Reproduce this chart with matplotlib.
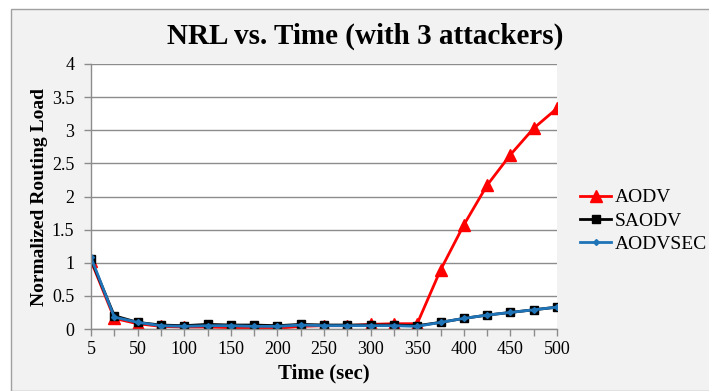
import numpy as np
import matplotlib.pyplot as plt
from matplotlib.patches import Rectangle

# Tempo de simulação (categorias do eixo x)
times = [5, 25, 50, 75, 100, 125, 150, 175, 200, 225, 250,
         275, 300, 325, 350, 375, 400, 425, 450, 475, 500]

aodv = [1.03, 0.16, 0.08, 0.04, 0.03, 0.03, 0.02, 0.01, 0.01, 0.04, 0.05,
        0.05, 0.07, 0.08, 0.08, 0.89, 1.57, 2.17, 2.63, 3.03, 3.33]
saodv = [1.05, 0.20, 0.10, 0.06, 0.05, 0.07, 0.06, 0.06, 0.05, 0.07, 0.06,
         0.06, 0.06, 0.06, 0.05, 0.10, 0.16, 0.21, 0.25, 0.29, 0.33]
aodvsec = [1.08, 0.18, 0.10, 0.05, 0.04, 0.05, 0.05, 0.04, 0.04, 0.06, 0.05,
           0.05, 0.05, 0.05, 0.04, 0.10, 0.16, 0.21, 0.25, 0.29, 0.33]

yticks = [0, 0.5, 1, 1.5, 2, 2.5, 3, 3.5, 4]
ytick_labels = ['0', '0.5', '1', '1.5', '2', '2.5', '3', '3.5', '4']

plt.rcParams['font.family'] = ['Liberation Serif', 'DejaVu Serif']

fig = plt.figure(figsize=(7.09, 3.91), dpi=100)
fig.patch.set_facecolor('white')
# caixa cinza do gráfico
fig.patches.append(Rectangle((11 / 709, 0), 1, 1 - 9 / 391, transform=fig.transFigure,
                             facecolor='#f2f2f2', edgecolor='#a0a0a0', linewidth=1, zorder=-1))

ax = fig.add_axes([91 / 709, 62 / 391, 466 / 709, 265 / 391])
ax.set_zorder(2)
ax.set_facecolor('white')

x = np.arange(len(times))
ax.plot(x, aodv, color='#ff0000', linewidth=2, marker='^', markersize=9, label='AODV', zorder=3)
ax.plot(x, saodv, color='black', linewidth=2, marker='s', markersize=6, label='SAODV', zorder=4)
ax.plot(x, aodvsec, color='#1f74b8', linewidth=2, marker='D', markersize=3, label='AODVSEC', zorder=5)

ax.set_xlim(0, len(times) - 1)
ax.set_ylim(0, 4)
ax.set_xticks(x)
ax.set_xticklabels([str(t) if i % 2 == 0 else '' for i, t in enumerate(times)], fontsize=13)
ax.set_yticks(yticks)
ax.set_yticklabels(ytick_labels, fontsize=13)
ax.tick_params(axis='both', direction='out', length=5, color='#8c8c8c', width=1)
ax.tick_params(axis='y', pad=7)

ax.grid(axis='y', color='#8c8c8c', linewidth=1)
ax.set_axisbelow(True)
for s in ['top', 'right']:
    ax.spines[s].set_visible(False)
for s in ['left', 'bottom']:
    ax.spines[s].set_color('#8c8c8c')
    ax.spines[s].set_linewidth(1)
    ax.spines[s].set_zorder(6)

ax.set_xlabel('Time (sec)', fontsize=15, fontweight='bold', labelpad=4)
ax.set_ylabel('Normalized Routing Load', fontsize=14, fontweight='bold', labelpad=3)
fig.text(365 / 709, 1 - 36 / 391, 'NRL vs. Time (with 3 attackers)', fontsize=21,
         fontweight='bold', ha='center', va='center')

fig.legend(loc='center left', bbox_to_anchor=(580 / 709, 1 - 221 / 391), frameon=False,
           fontsize=14, handlelength=1.6, handletextpad=0.2, labelspacing=0.3,
           borderaxespad=0, borderpad=0)

fig.savefig('out.png', dpi=100)
